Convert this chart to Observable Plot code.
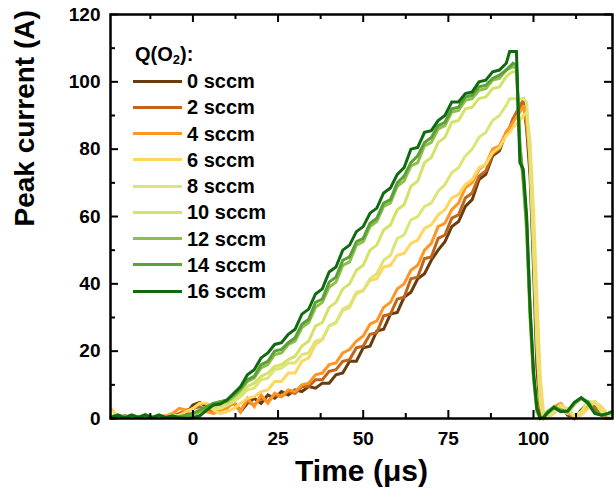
<!DOCTYPE html>
<html><head><meta charset="utf-8">
<script src="https://cdn.jsdelivr.net/npm/d3@7"></script>
<script src="https://cdn.jsdelivr.net/npm/@observablehq/plot@0.6"></script>
<style>
body{margin:0;background:#fff;}
#wrap{position:relative;width:614px;height:504px;font-family:"Liberation Sans",Arial,sans-serif;}
#legend{position:absolute;left:133px;top:40px;font-weight:bold;font-size:20px;color:#000;line-height:26.25px;}
#legend .ttl{height:28px;line-height:28px;margin-left:2px;}
#legend .row{height:26.25px;display:flex;align-items:center;}
#legend .sw{width:49px;height:3px;margin-right:5px;}
#legend sub{font-size:13px;vertical-align:-3px;line-height:0;}
</style></head><body>
<div id="wrap"><div id="chart"></div><div id="legend"></div></div>
<script>
// time axis (µs)
const time = [-24,-22,-20,-18,-16,-14,-12,-10,-8,-6,-4,-2,
  0,2,4,6,8,10,12,14,16,18,20,22,24,26,28,30,32,34,36,38,40,42,44,46,48,50,52,54,56,58,60,62,64,66,68,70,72,74,76,78,80,82,84,86,88,90,92,
  93,94,95,96,97,98,99,100,101,102,103,104,
  106,108,110,112,114,116,118,120,122,123];

const q0 = [0.5,0.3,0.8,0.3,0.5,0.3,0.6,0.3,0.5,0.4,0.6,1.5,
  4,4.8,3.5,2.5,3,4,5,2,4.5,6,4.5,7,6,8,7,8.5,8,9.5,9,10.5,10.5,13,13.5,17,17,21,21.5,26,26.5,31,31.5,36,37.5,41.5,43,47,50,52.5,57,58.5,63,65,71,72.5,78,79.5,85,
  86,89,90,92,94,86,72,45,15,2,0,0.5,
  2.5,4,1,0,2.5,4.5,3,1,1.5,1.5];
const q2 = [0.4,0.6,0.3,0.5,0.3,0.6,0.3,0.5,0.4,0.8,1.5,2.5,
  3,3.5,2.5,2,2.5,3.5,4.5,2.5,5,4,6,5,7,6.5,8,7.5,9.5,9.5,11.5,11.5,14,14.5,17,17.5,21,21.5,25,25.5,30.5,31,35.5,36,41.5,42,47.5,48,53.5,54.5,59.5,60.5,65.5,67,72,73.5,78.5,80,85,
  86.5,89,91,93,94.5,87,75,50,20,3,0,0.5,
  3,4,1.5,0,2,4.5,3.5,1,1,1.5];
const q4 = [0.3,0.5,0.3,0.6,0.3,0.5,0.3,0.6,0.8,1.5,3,2.5,
  1,2,2,1.5,2.5,3,5,2,6,3.5,7,4.5,7.5,6.5,8.5,8,10,10.5,13,13.5,16,16.5,19.5,20.5,23,24.5,28,29,33,34.5,38.5,40,44,45.5,50,52,57,58,62,64,68.5,70,74,75.5,80,81,85,
  86.5,88,89.5,91,93,88,78,55,25,4,0,0.3,
  3.5,4.5,2,0.3,1.5,4,5,2,1,1.5];
const q6 = [3,0.5,0.3,0.6,0.3,0.5,0.3,0.6,0.3,0.5,1,2,
  3,4.5,4.5,2.5,1.5,2,3,4.5,6,6.5,8,8.5,11,11,13.5,13.5,17,18,22,23.5,27.5,28.5,32.5,33.5,37.5,38,41,41.5,45,45.5,48.5,49,52,53,56.5,57.5,60.5,62,65.5,66.5,69.5,71,74.5,75.5,79,80.5,84,
  85,86.5,87.5,88.5,90,91,82,62,36,12,1,0,
  1.5,3.5,3,0.5,1,3,5,3.5,1,1.5];
const q8 = [0.5,1,0.3,0.8,0.3,1,0.3,0.8,0.5,1,0.5,0.3,
  0.5,2,3.5,3,3,4,5,6.5,8.5,9,11.5,12,14.5,15,16.5,16.5,19,19.5,23,23.5,27.5,28.5,32,33,37,38,41.5,43,47,48.5,53.5,54.5,59,60,63,64,67.5,69.5,73,74.5,78,80,83.5,85,88.5,90,93,
  95,95,95,95,95,94,76,50,22,5,0,0.3,
  2,4,2.5,1,2,5,5,2,1,1.5];
const q10 = [0.3,1,0.3,1,0.3,0.8,0.3,1,0.3,0.6,0.3,0.5,
  1,2.5,3,3.5,4,4.5,5.5,7.5,9.5,10.5,12.5,13.5,15.5,16,17.5,18.5,21.5,23,27.5,28.5,33,34.5,38.5,40,44,45.5,50,51.5,56,57.5,62,63.5,69,70.5,76,77.5,82,83.5,88,88.5,92,92.5,95,95.5,98,98.5,101.5,
  102.5,103,103,82,70,55,30,12,2,0,0.3,1.5,
  3,2.5,1.5,4,6,4.5,1.5,1,1.5,2];
const q12 = [0.5,1,0.3,1,0.3,1,0.3,1,0.3,0.5,0.5,0.8,
  1,2,3,4.5,5,5,6.5,8.5,11,12,15,16,19,19.5,22,23,27,28.5,33,34.5,39,40.5,45.5,46.5,51.5,52.5,57,58.5,63,64,69,70.5,75,76,81,82,86,87,91,91.5,94.5,95,97.5,98,100.5,101,103.5,
  104,104.5,104,82,70,56,30,12,2,0,0.3,1.8,
  3.3,2.3,2,4.5,6,4.8,1.8,1,1.5,2];
const q14 = [0.5,1,0.3,1,0.3,1.2,0.3,1,0.3,0.5,0.5,1,
  1.5,2.5,3.5,4.5,5,5.5,7,9,11.5,12.5,16,17,20,20.5,22.5,24,28,29.5,34.5,35.5,40.5,42,47,48,52.5,53.5,58,59.5,64,65,70,72,76,78,82,83.5,87,88,92,92.5,95.5,96,98.5,99,101,102,103.5,
  104.5,105.5,105,80,72,58,32,13,3,0,0.5,2,
  3.5,2.5,2,4.5,6,5,2,1,1.5,2];
const q16 = [0.3,1,0.2,1,0.3,1,0.2,1,0.3,0.8,0.2,0.1,
  0.2,0.8,2.5,4,4.3,5.5,7.5,9.5,13,14.5,18,19.5,22,22.5,25,26.5,31,32.5,37,38.5,43.5,45,50,51.5,55.5,57,61,62.5,67,68.5,72.5,74.5,80,80.5,85,85.5,88.5,90,94,94,96.5,97,100,100.5,103,103.5,105.5,
  109,109,109,76,74,60,33,14,3,0,0.3,1.5,
  3.3,2,2.2,4.8,6.2,4.5,1.5,1,1.5,2];

const seriesNames = ["0 sccm","2 sccm","4 sccm","6 sccm","8 sccm","10 sccm","12 sccm","14 sccm","16 sccm"];
const seriesColors = ["#6A3C0C","#C2651C","#FF9624","#FFD75E","#DDE57A","#D5E267","#8DC047","#5CA03A","#0F6A10"];
const seriesValues = [q0,q2,q4,q6,q8,q10,q12,q14,q16];

const xMajorTicks = [0,25,50,75,100];
const xMinorTicks = [-12.5,12.5,37.5,62.5,87.5,112.5];
const yMajorTicks = [0,20,40,60,80,100,120];
const yMinorTicks = [10,30,50,70,90,110];

const rows = [];
seriesValues.forEach((vals, i) => vals.forEach((v, j) => rows.push({t: time[j], I: v, s: seriesNames[i]})));

const W = 614, H = 504, mL = 110, mR = 2, mT = 14, mB = 86;
const fw = W - mL - mR, fh = H - mT - mB;
const major = 8, minor = 5;

const chart = Plot.plot({
  width: W, height: H,
  marginLeft: mL, marginRight: mR, marginTop: mT, marginBottom: mB,
  style: {fontFamily: "'Liberation Sans', Arial, sans-serif", fontWeight: "bold", fontSize: "19px", background: "white", color: "black", overflow: "visible"},
  x: {domain: [-24.2, 123.2]},
  y: {domain: [0, 120]},
  color: {domain: seriesNames, range: seriesColors},
  marks: [
    Plot.line(rows, {x: "t", y: "I", z: "s", stroke: "s", strokeWidth: 3, strokeLinejoin: "miter", strokeMiterlimit: 3}),
    Plot.tickX(xMajorTicks, {x: d => d, insetTop: fh - major, stroke: "black", strokeWidth: 2}),
    Plot.tickX(xMajorTicks, {x: d => d, insetBottom: fh - major, stroke: "black", strokeWidth: 2}),
    Plot.tickX(xMinorTicks, {x: d => d, insetTop: fh - minor, stroke: "black", strokeWidth: 2}),
    Plot.tickX(xMinorTicks, {x: d => d, insetBottom: fh - minor, stroke: "black", strokeWidth: 2}),
    Plot.tickY(yMajorTicks, {y: d => d, insetRight: fw - major, stroke: "black", strokeWidth: 2}),
    Plot.tickY(yMajorTicks, {y: d => d, insetLeft: fw - major, stroke: "black", strokeWidth: 2}),
    Plot.tickY(yMinorTicks, {y: d => d, insetRight: fw - minor, stroke: "black", strokeWidth: 2}),
    Plot.tickY(yMinorTicks, {y: d => d, insetLeft: fw - minor, stroke: "black", strokeWidth: 2}),
    Plot.axisX({ticks: xMajorTicks, tickSize: 0, tickPadding: 13, label: null}),
    Plot.axisY({ticks: yMajorTicks, tickSize: 0, tickPadding: 10, label: null}),
    Plot.frame({stroke: "black", strokeWidth: 2.5}),
    Plot.text(["Time (μs)"], {frameAnchor: "bottom", dy: 62, fontSize: 30, fontWeight: "bold", fill: "black"}),
    Plot.text(["Peak current (A)"], {frameAnchor: "left", dx: -85, dy: 10, rotate: -90, fontSize: 28, fontWeight: "bold", fill: "black"})
  ]
});
document.getElementById("chart").appendChild(chart);

const leg = document.getElementById("legend");
const ttl = document.createElement("div");
ttl.className = "ttl";
ttl.innerHTML = "Q(O<sub>2</sub>):";
leg.appendChild(ttl);
seriesNames.forEach((n, i) => {
  const r = document.createElement("div");
  r.className = "row";
  const sw = document.createElement("span");
  sw.className = "sw";
  sw.style.background = seriesColors[i];
  const tx = document.createElement("span");
  tx.textContent = n;
  r.appendChild(sw); r.appendChild(tx);
  leg.appendChild(r);
});
</script>
</body></html>
